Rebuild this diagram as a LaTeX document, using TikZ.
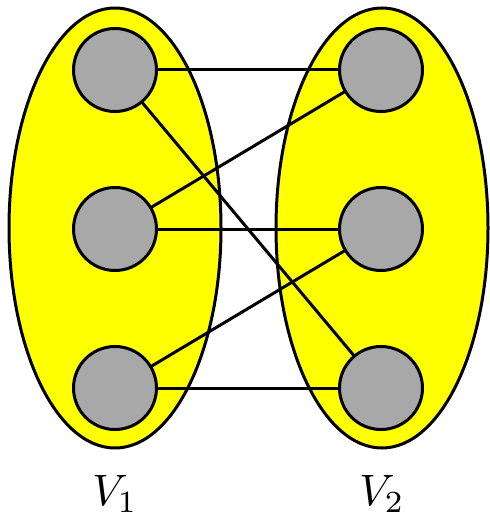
\documentclass[tikz,border=0pt]{standalone}
\definecolor{py}{RGB}{255,255,0}
\definecolor{vg}{RGB}{168,168,168}
\begin{document}
\begin{tikzpicture}[x=1pt,y=-1pt,line width=3pt,
  part/.style={draw=black,fill=py},
  vert/.style={circle,draw=black,fill=vg,minimum size=83pt,inner sep=0pt},
  lab/.style={scale=4.4}]
\useasboundingbox (0,0) rectangle (489,518);
\path[part] (115,228) ellipse [x radius=106,y radius=220];
\path[part] (382,228) ellipse [x radius=106,y radius=220];
\coordinate (a1) at (115,70);
\coordinate (a2) at (115,229);
\coordinate (a3) at (115,388);
\coordinate (b1) at (381,70);
\coordinate (b2) at (381,229);
\coordinate (b3) at (381,388);
\draw (a1) -- (b1);
\draw (a1) -- (b3);
\draw (a2) -- (b1);
\draw (a2) -- (b2);
\draw (a3) -- (b2);
\draw (a3) -- (b3);
\node[vert] (n1) at (a1) {};
\node[vert] (n2) at (a2) {};
\node[vert] (n3) at (a3) {};
\node[vert] (m1) at (b1) {};
\node[vert] (m2) at (b2) {};
\node[vert] (m3) at (b3) {};
\node[lab] (l1) at (115,494) {$V_1$};
\node[lab] (l2) at (382,494) {$V_2$};
\end{tikzpicture}
\end{document}
